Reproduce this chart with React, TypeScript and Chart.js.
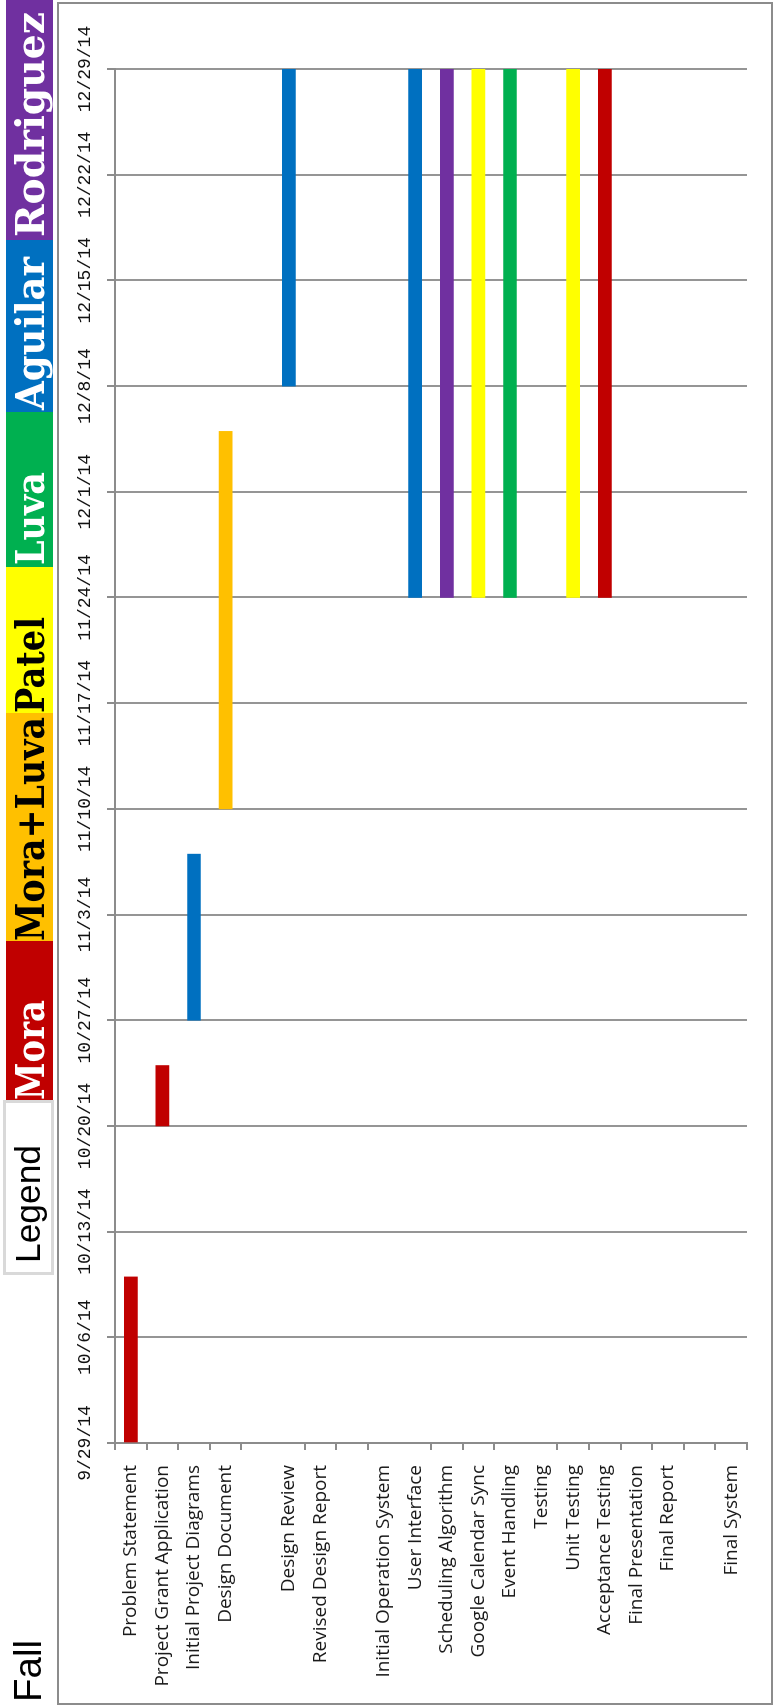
import { useEffect, useRef } from 'react';
import { Chart, registerables } from 'chart.js';

Chart.register(...registerables);

// ---------------- data ----------------
const categories = [
  'Problem Statement',
  'Project Grant Application',
  'Initial Project Diagrams',
  'Design Document',
  '',
  'Design Review',
  'Revised Design Report',
  '',
  'Initial Operation System',
  'User Interface',
  'Scheduling Algorithm',
  'Google Calendar Sync',
  'Event Handling',
  'Testing',
  'Unit Testing',
  'Acceptance Testing',
  'Final Presentation',
  'Final Report',
  '',
  'Final System',
];

const taskStart = [
  '9/29/14', '10/20/14', '10/27/14', '11/10/14', null,
  '12/8/14', null, null, null, '11/24/14',
  '11/24/14', '11/24/14', '11/24/14', null, '11/24/14',
  '11/24/14', null, null, null, null,
];

const taskEnd = [
  '10/10/14', '10/24/14', '11/7/14', '12/5/14', null,
  '12/29/14', null, null, null, '12/29/14',
  '12/29/14', '12/29/14', '12/29/14', null, '12/29/14',
  '12/29/14', null, null, null, null,
];

const taskOwner = [
  'Mora', 'Mora', 'Aguilar', 'Mora+Luva', null,
  'Aguilar', null, null, null, 'Aguilar',
  'Rodriguez', 'Patel', 'Luva', null, 'Patel',
  'Mora', null, null, null, null,
];

const dateTicks = [
  '9/29/14', '10/6/14', '10/13/14', '10/20/14', '10/27/14', '11/3/14', '11/10/14',
  '11/17/14', '11/24/14', '12/1/14', '12/8/14', '12/15/14', '12/22/14', '12/29/14',
];

const legendNames = ['Mora', 'Mora+Luva', 'Patel', 'Luva', 'Aguilar', 'Rodriguez'];
const legendColors = ['#C00000', '#FFC000', '#FFFF00', '#00B050', '#0070C0', '#7030A0'];
const legendTextColors = ['#FFFFFF', '#000000', '#000000', '#FFFFFF', '#FFFFFF', '#FFFFFF'];

const titleText = 'Fall';
const legendTitle = 'Legend';

// ---------------- layout (landscape, before rotation) ----------------
const W = 1707;
const H = 775;
const GRID = '#959595';
const AXIS = '#8c8c8c';
const legendCellX = [607, 766, 994, 1140, 1295, 1467, 1707];
const legendTextW = [100, 224, 96, 93, 153, 225];
const legendTextInset = [0, 0, 0, 2, 2, 3];
const missingCatTicks = [5, 9, 13];

// ---------------- helpers ----------------
const dayNum = (s: string) => {
  const [m, d, y] = s.split('/').map(Number);
  return Date.UTC(2000 + y, m - 1, d) / 86400000;
};
const origin = dayNum(dateTicks[0]);
const toDay = (s: string) => dayNum(s) - origin;

function fitText(ctx: CanvasRenderingContext2D, text: string, x: number, y: number, w: number) {
  const natural = ctx.measureText(text).width;
  ctx.save();
  ctx.translate(x, y);
  ctx.scale(w / natural, 1);
  ctx.textAlign = 'left';
  ctx.textBaseline = 'alphabetic';
  ctx.fillText(text, 0, 0);
  ctx.restore();
}

const decor = {
  id: 'decor',
  beforeDraw(chart: any) {
    const ctx = chart.ctx as CanvasRenderingContext2D;
    ctx.save();
    ctx.fillStyle = '#ffffff';
    ctx.fillRect(0, 0, W, H);
    ctx.strokeStyle = AXIS;
    ctx.lineWidth = 2;
    ctx.strokeRect(3, 58, 1701, 714);
    ctx.restore();
  },
  afterDraw(chart: any) {
    const ctx = chart.ctx as CanvasRenderingContext2D;
    ctx.save();

    // title
    ctx.font = '38px "Liberation Sans"';
    ctx.fillStyle = '#000000';
    fitText(ctx, titleText, 5, 41, 62);

    // legend title box
    ctx.fillStyle = '#d9d9d9';
    ctx.fillRect(432, 3, 175, 51);
    ctx.fillStyle = '#ffffff';
    ctx.fillRect(435, 6, 169, 45);
    ctx.font = '35px "Liberation Sans"';
    ctx.fillStyle = '#000000';
    fitText(ctx, legendTitle, 444, 40, 118);

    // legend cells
    legendNames.forEach((name, i) => {
      const x0 = legendCellX[i];
      const x1 = legendCellX[i + 1];
      ctx.fillStyle = legendColors[i];
      ctx.fillRect(x0, 6, x1 - x0, 47);
      ctx.font = 'bold 39px "DejaVu Serif"';
      ctx.fillStyle = legendTextColors[i];
      fitText(ctx, name, x0 + legendTextInset[i], 44, legendTextW[i]);
    });

    ctx.restore();
  },
};

export default function App() {
  const ref = useRef<HTMLCanvasElement>(null);

  useEffect(() => {
    document.documentElement.style.overflow = 'hidden';
    document.body.style.overflow = 'hidden';

    const lastDay = toDay(dateTicks[dateTicks.length - 1]);
    const chart = new Chart(ref.current as HTMLCanvasElement, {
      type: 'bar',
      data: {
        labels: categories,
        datasets: [
          {
            data: taskStart.map((s, i) =>
              s && taskEnd[i] ? [toDay(s), toDay(taskEnd[i] as string)] : null
            ) as any,
            backgroundColor: taskOwner.map((o) =>
              o ? legendColors[legendNames.indexOf(o)] : 'rgba(0,0,0,0)'
            ),
            borderWidth: 0,
            barThickness: 13,
          },
        ],
      },
      options: {
        indexAxis: 'y',
        responsive: false,
        animation: false,
        layout: { padding: { left: 0, top: 0, right: 69, bottom: 28 } },
        plugins: {
          legend: { display: false },
          tooltip: { enabled: false },
          title: { display: false },
        },
        scales: {
          x: {
            type: 'linear',
            position: 'top',
            min: 0,
            max: lastDay,
            afterBuildTicks: (s: any) => {
              s.ticks = dateTicks.map((t) => ({ value: toDay(t) }));
            },
            afterFit: (s: any) => {
              s.height = 115;
            },
            ticks: {
              autoSkip: false,
              maxRotation: 0,
              minRotation: 0,
              padding: 11,
              color: '#111111',
              font: { family: "'Liberation Mono'", size: 18 },
              callback: (_v: any, i: number) => dateTicks[i],
            },
            grid: { color: GRID, lineWidth: 2, tickLength: 8, drawTicks: true, tickColor: AXIS },
            border: { display: true, color: AXIS, width: 2 },
          },
          y: {
            type: 'category',
            position: 'left',
            offset: true,
            afterFit: (s: any) => {
              s.width = 264;
            },
            ticks: {
              autoSkip: false,
              padding: 15,
              color: '#1a1a1a',
              font: { family: "'Open Sans'", size: 19 },
            },
            grid: {
              drawOnChartArea: false,
              drawTicks: true,
              tickLength: 7,
              offset: true,
              lineWidth: 2,
              color: AXIS,
              tickColor: (c: any) =>
                missingCatTicks.includes(c.index) ? 'rgba(0,0,0,0)' : AXIS,
            },
            border: { display: true, color: AXIS, width: 2 },
          },
        },
      } as any,
      plugins: [decor],
    });
    return () => chart.destroy();
  }, []);

  return (
    <div
      style={{
        position: 'absolute',
        left: 0,
        top: 0,
        width: W,
        height: H,
        transformOrigin: '0 0',
        transform: `translateY(${W}px) rotate(-90deg)`,
        background: '#ffffff',
      }}
    >
      <canvas ref={ref} width={W} height={H} style={{ display: 'block', width: W, height: H }} />
    </div>
  );
}
